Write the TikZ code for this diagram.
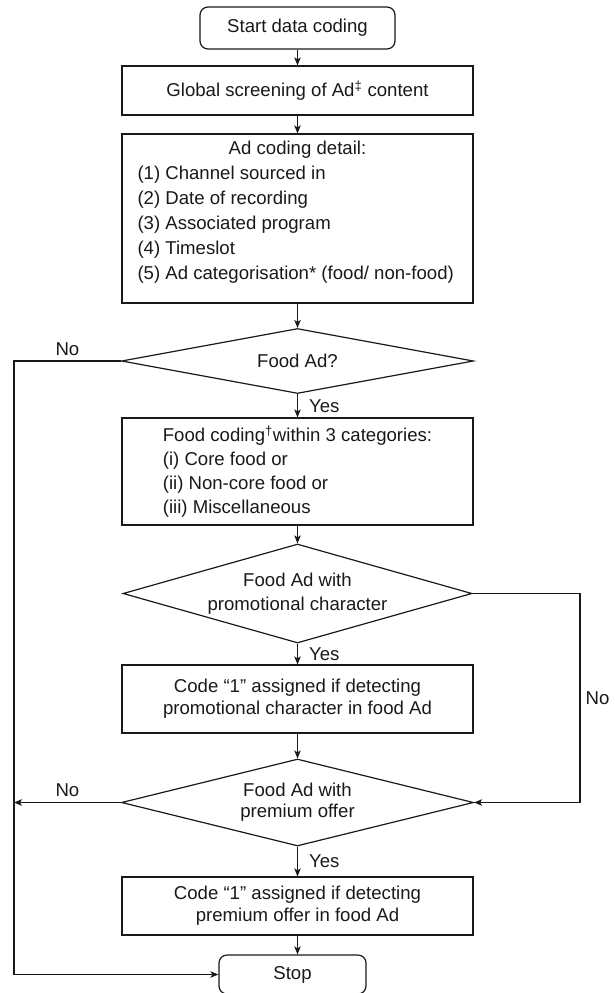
\documentclass[tikz,border=0pt]{standalone}
\usepackage{fontspec}
\setmainfont{Liberation Sans}
\usetikzlibrary{shapes.geometric,arrows.meta}
\begin{document}
\begin{tikzpicture}[x=1pt,y=-1pt,
  every node/.style={font=\fontsize{18.6pt}{24pt}\selectfont, text=black!90},
  box/.style={draw=black!90, line width=1.2pt, rectangle, minimum width=351pt, inner sep=0pt, align=center},
  term/.style={draw=black!90, line width=1.2pt, rectangle, rounded corners=8pt, inner sep=0pt},
  dec/.style={draw=black!90, line width=1.2pt, diamond, inner sep=0pt, align=center},
  arr/.style={draw=black!90, line width=1.2pt, -{Stealth[length=8pt,width=6.5pt,inset=2pt]}},
  yeslbl/.style={right, inner sep=0pt, xshift=11pt},
  nolbl/.style={above, inner sep=5pt}
]
\useasboundingbox (0,0) rectangle (614,993);

\node[term, minimum width=195pt, minimum height=42pt] (start) at (297.5,28) {Start data coding};
\node[box, minimum height=49pt] (glob) at (297.5,90.5) {Global screening of Ad\textsuperscript{‡} content};
\node[box, minimum height=169pt] (ad) at (297.5,218.5) {\parbox{320pt}{\baselineskip=25pt\centering Ad coding detail:\par\raggedright (1) Channel sourced in\\(2) Date of recording\\(3) Associated program\\(4) Timeslot\\(5) Ad categorisation* (food/ non-food)\par\vspace{13pt}}};
\node[dec, minimum width=352pt, minimum height=65pt, shape aspect=5.4] (d1) at (297.5,361) {Food Ad?};
\node[box, minimum height=107pt, align=left] (food) at (297.5,471.5) {Food coding\textsuperscript{†}within 3 categories:\\(i) Core food or\\(ii) Non-core food or\\(iii) Miscellaneous};
\node[dec, minimum width=349pt, minimum height=99pt, shape aspect=3.5] (d2) at (297.5,593.5) {Food Ad with\\promotional character};
\node[box, minimum height=68pt, font=\fontsize{18.6pt}{22pt}\selectfont] (c1) at (297.5,699) {Code “1” assigned if detecting\\promotional character in food Ad};
\node[dec, minimum width=352pt, minimum height=87pt, shape aspect=4, font=\fontsize{18.6pt}{21pt}\selectfont] (d3) at (297.5,802.5) {Food Ad with\\premium offer};
\node[box, minimum height=58pt, font=\fontsize{18.6pt}{22pt}\selectfont] (c2) at (297.5,906) {Code “1” assigned if detecting\\premium offer in food Ad};
\node[term, minimum width=147pt, minimum height=39pt] (stop) at (292.5,974.5) {Stop};

\coordinate (lc) at (14,361);
\coordinate (rc) at (580,593.5);

\draw[arr] (start) -- (glob);
\draw[arr] (glob) -- (ad);
\draw[arr] (ad) -- (d1);
\draw[arr] (d1) -- node[yeslbl]{Yes} (food);
\draw[arr] (food) -- (d2);
\draw[arr] (d2) -- node[yeslbl]{Yes} (c1);
\draw[arr] (c1) -- (d3);
\draw[arr] (d3) -- node[yeslbl]{Yes} (c2);
\draw[arr] (c2.south) -- (c2.south |- stop.north);

\draw[arr] (d1.west) -- node[nolbl]{No} (lc) |- (stop.west);
\draw[arr] (d3.west) -- node[nolbl]{No} (d3.west -| lc);
\draw[arr] (d2.east) -- (rc) |- node[pos=0.25, right, inner sep=5pt]{No} (d3.east);
\end{tikzpicture}
\end{document}
